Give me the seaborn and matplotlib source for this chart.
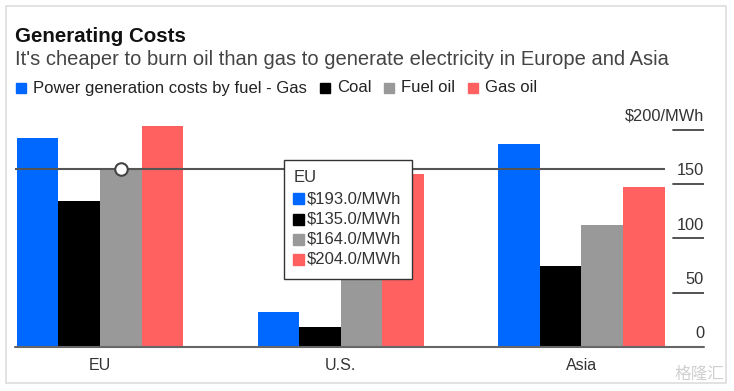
#Import libraries
import numpy as np
import pandas as pd
import matplotlib.pyplot as plt
import seaborn as sns
from matplotlib.patches import Rectangle

#Chart data
regions = ['EU', 'U.S.', 'Asia']
fuels = ['Power generation costs by fuel - Gas', 'Coal', 'Fuel oil', 'Gas oil']
gas = [193.0, 32.0, 187.0]
coal = [135.0, 18.0, 75.0]
fuel_oil = [164.0, 90.0, 112.0]
gas_oil = [204.0, 159.0, 147.0]
y_ticks = [0, 50, 100, 150, 200]
y_tick_labels = ['0', '50', '100', '150', '$200/MWh']
colors = ['#0068ff', '#000000', '#999999', '#ff6161']

df = pd.DataFrame({
    'Region': regions * 4,
    'Fuel': np.repeat(fuels, len(regions)),
    'Cost': gas + coal + fuel_oil + gas_oil,
})

sns.set_style('white')
plt.rcParams['font.family'] = ['Liberation Sans', 'DejaVu Sans']

W, H = 734, 391
fig = plt.figure(figsize=(W / 100, H / 100), dpi=100)

def fx(x):
    return x / W

def fy(y):
    return 1 - y / H

#Axes placed in pixel terms
ax = fig.add_axes([fx(15), fy(347), (704 - 15) / W, (347 - 110) / H])
sns.barplot(data=df, x='Region', y='Cost', hue='Fuel', hue_order=fuels,
            palette=colors, width=0.69, saturation=1, linewidth=0,
            legend=False, ax=ax)
ax.set_xlim(-0.353, 2.509)
ax.set_ylim(0, 218.4)
sns.despine(ax=ax, left=True, bottom=True, top=True, right=True)
ax.set_yticks([])
ax.set_xlabel('')
ax.set_ylabel('')
ax.tick_params(axis='x', length=0, pad=8, labelsize=11.5, labelcolor='#333333')

#Baseline and right-hand ticks
ax.axhline(0, color='#666666', lw=1.5, clip_on=False, zorder=3)
ytrans = ax.get_yaxis_transform()
tick_start = (673 - 15) / (704 - 15)
for t, lab in zip(y_ticks, y_tick_labels):
    if t > 0:
        ax.axhline(t, xmin=tick_start, xmax=1, color='#444444', lw=1.3)
    ax.text(1, t + 5.5, lab, transform=ytrans, ha='right', va='bottom',
            fontsize=11.8, color='#333333')

#Hover crosshair on EU fuel oil
hover_bar = ax.containers[2][0]
last_bar = ax.containers[3][-1]
hx = hover_bar.get_x() + hover_bar.get_width() / 2
hy = hover_bar.get_height()
ax.hlines(hy, ax.get_xlim()[0], last_bar.get_x() + last_bar.get_width(),
          color='#555555', lw=1.5, zorder=4)
ax.plot([hx], [hy], 'o', ms=9, mfc='white', mec='#444444', mew=1.5, zorder=5)

#Title and subtitle
fig.text(fx(15), fy(42), 'Generating Costs', fontsize=14.8, fontweight='bold',
         color='#111111', va='baseline')
fig.text(fx(15), fy(65), "It's cheaper to burn oil than gas to generate electricity in Europe and Asia",
         fontsize=14.5, color='#444444', va='baseline')

#Legend row
renderer = fig.canvas.get_renderer()
lx = 16
for name, c in zip(fuels, colors):
    fig.add_artist(Rectangle((fx(lx), fy(93)), 10 / W, 10 / H, color=c,
                             transform=fig.transFigure))
    t = fig.text(fx(lx + 17), fy(88), name, fontsize=12, color='#222222', va='center')
    lx = lx + 17 + t.get_window_extent(renderer).width + 13

#Tooltip for EU
fig.add_artist(Rectangle((fx(284), fy(279)), 128 / W, 119 / H, facecolor='white',
                         edgecolor='#333333', lw=1, transform=fig.transFigure, zorder=6))
fig.text(fx(294), fy(177), regions[0], fontsize=12, color='#333333', va='center', zorder=7)
eu_vals = [gas[0], coal[0], fuel_oil[0], gas_oil[0]]
for i, (v, c) in enumerate(zip(eu_vals, colors)):
    yc = 199 + i * 20
    fig.add_artist(Rectangle((fx(293), fy(yc + 5.5)), 11 / W, 11 / H, color=c,
                             transform=fig.transFigure, zorder=7))
    fig.text(fx(307), fy(yc), f'${v:.1f}/MWh', fontsize=12, color='#333333',
             va='center', zorder=7)

#Outer frame and watermark
fig.add_artist(Rectangle((fx(6), fy(383)), 720 / W, 377 / H, fill=False,
                         edgecolor='#dddddd', lw=1.2, transform=fig.transFigure))
fig.text(fx(724), fy(374), '格隆汇', fontsize=12, color='#d0d0d0', ha='right', va='center',
         family=['Noto Sans CJK SC', 'DejaVu Sans'])

plt.savefig('out.png', dpi=100)
